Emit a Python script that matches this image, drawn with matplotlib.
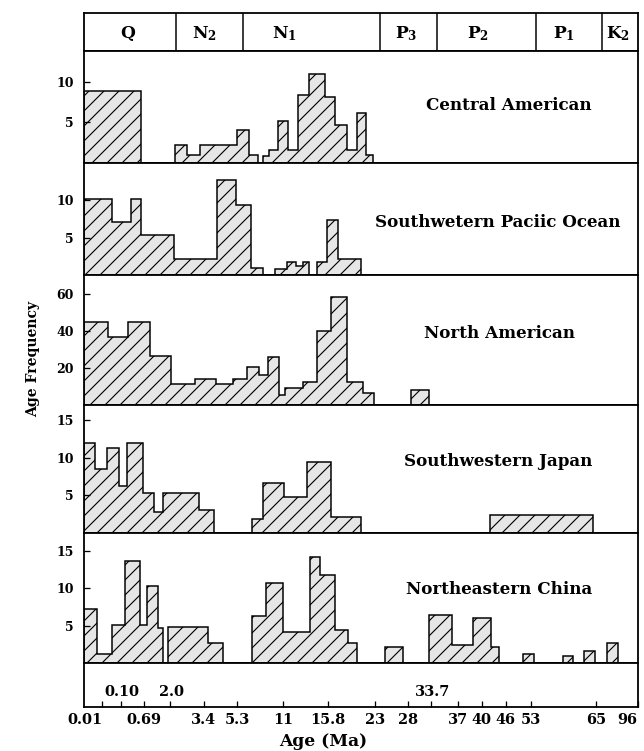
import numpy as np
import matplotlib
matplotlib.use("Agg")
import matplotlib.pyplot as plt
from matplotlib.transforms import blended_transform_factory

plt.rcParams['font.family'] = ['DejaVu Serif']
plt.rcParams['font.weight'] = 'bold'
plt.rcParams['mathtext.fontset'] = 'dejavuserif'
plt.rcParams['hatch.linewidth'] = 0.9
plt.rcParams['hatch.color'] = 'black'

DPI = 90
W, H = 644, 751
PT = 72 / DPI   # points per output pixel

# x values are positions along the chart's non-linear age scale
x_left, x_right = 84, 638

# age scale (bottom strip)
tick_pos = [102.3, 120.7, 144.3, 170, 204, 237.3, 283.3, 328.3, 375,
            407.7, 431, 457.7, 481.7, 505.7, 530.7, 596, 637.7]
tick_age = ['0.01', '0.10', '0.69', '2.0', '3.4', '5.3', '11', '15.8', '23',
            '28', '33.7', '37', '40', '46', '53', '65', '96']
upper_row = ['0.10', '2.0', '33.7']

# stratigraphic header
period_names = ['Q', r'$\mathbf{N_2}$', r'$\mathbf{N_1}$', r'$\mathbf{P_3}$',
                r'$\mathbf{P_2}$', r'$\mathbf{P_1}$', r'$\mathbf{K_2}$']
period_bounds = [84, 176, 243, 380, 437, 536, 602, 638]
period_label_x = [128, 204, 284, 406, 478, 564, 618]

# histograms: bin edges (scale position) and age frequency
regions = ['Central American', 'Southwetern Paciic Ocean', 'North American',
           'Southwestern Japan', 'Northeastern China']

ca_edges = [84, 141, 175, 186.7, 200, 236.7, 249.3, 257.7, 263.3, 269.3, 278.3,
            288.3, 298.3, 309.3, 325, 335, 346.7, 356.7, 366, 372.7]
ca_freq = [8.9, 0, 2.2, 1.0, 2.2, 4.0, 1.0, 0, 0.8, 1.6, 5.1, 1.6, 8.3, 10.9,
           8.1, 4.6, 1.6, 6.1, 1.0]

sp_edges = [84, 111.7, 130.7, 141, 174, 216.7, 235.7, 251, 263.3, 275, 286.7,
            296, 302.7, 309.3, 317.3, 327.3, 337.7, 361]
sp_freq = [10.1, 7.1, 10.1, 5.3, 2.2, 12.7, 9.3, 0.9, 0, 0.8, 1.8, 1.2, 1.8, 0,
           1.8, 7.4, 2.1]

na_edges = [84, 108.3, 128.3, 150, 171, 195, 216, 233.3, 246.7, 259, 268.3,
            279.3, 285, 303.3, 317.3, 330.7, 346.7, 363.3, 374, 410.7, 429]
na_freq = [45, 36.6, 45, 26.7, 11.2, 13.9, 11.2, 13.9, 20.7, 16.2, 26.1, 5.4,
           9.0, 12.3, 40, 58.5, 12.3, 6.3, 0, 8.1]

sj_edges = [84, 95, 106.7, 119.3, 127.3, 142.7, 154, 162.7, 199.3, 214, 251.7,
            262.7, 284, 307.3, 330.7, 360.7, 490, 593.3]
sj_freq = [12.0, 8.5, 11.3, 6.2, 12.0, 5.3, 2.8, 5.3, 3.0, 0, 1.8, 6.6, 4.7,
           9.4, 2.1, 0, 2.3]

nc_edges = [84, 96.7, 111.7, 125, 140, 146.7, 158.3, 162.7, 168.3, 208.3, 223.3,
            252.3, 265.7, 282.7, 310, 320, 335, 348.3, 356.7, 385, 402.7, 429,
            452.3, 473.3, 491, 499.3, 522.7, 534.3, 562.7, 573.3, 584.3, 595,
            606.7, 618.3]
nc_freq = [7.2, 1.3, 5.1, 13.6, 5.1, 10.3, 4.7, 0, 4.9, 2.7, 0, 6.3, 10.7, 4.2,
           14.2, 11.8, 4.4, 2.7, 0, 2.2, 0, 6.4, 2.4, 6.0, 2.2, 0, 1.3, 0, 1.0,
           0, 1.7, 0, 2.7]

panel_edges = [ca_edges, sp_edges, na_edges, sj_edges, nc_edges]
panel_freq = [ca_freq, sp_freq, na_freq, sj_freq, nc_freq]
panel_yticks = [[5, 10], [5, 10], [20, 40, 60], [5, 10, 15], [5, 10, 15]]
panel_ymax = [13.8, 14.96, 70.3, 17.0, 17.4]

# layout (pixel rows of the strips, top to bottom)
rows = [13, 50.7, 162.8, 275, 405, 532.7, 663.3, 706.7]
title_xy = [(509, 106), (498, 223), (499, 333), (498, 461), (499, 589)]

fig = plt.figure(figsize=(W / DPI, H / DPI), dpi=DPI)
lw = 1.8 * PT


def strip(top, bottom):
    ax = fig.add_axes([x_left / W, 1 - bottom / H,
                       (x_right - x_left) / W, (bottom - top) / H])
    ax.set_xlim(x_left, x_right)
    for s in ax.spines.values():
        s.set_linewidth(lw)
    return ax


# header
hd = strip(rows[0], rows[1])
hd.set_ylim(0, 1)
hd.set_xticks([])
hd.set_yticks([])
hd.vlines(period_bounds[1:-1], 0, 1, color='black', lw=1.5 * PT)
for name, xp in zip(period_names, period_label_x):
    hd.text(xp, 0.45, name, ha='center', va='center', fontsize=17 * PT,
            fontweight='bold')

# histogram panels
for i in range(5):
    ax = strip(rows[i + 1], rows[i + 2])
    ax.stairs(panel_freq[i], panel_edges[i], baseline=0, fill=True,
              facecolor='#e6e6e6', edgecolor='black', hatch='//',
              linewidth=1.5 * PT)
    ax.set_ylim(0, panel_ymax[i])
    ax.set_xticks([])
    ax.set_yticks(panel_yticks[i])
    ax.tick_params(axis='y', direction='in', length=6 * PT, width=1.3 * PT,
                   labelsize=12.5 * PT, pad=10 * PT)
    tx, ty = title_xy[i]
    fig.text(tx / W, 1 - ty / H, regions[i], ha='center', va='center',
             fontsize=16.7 * PT, fontweight='bold')

# age scale strip
bx = strip(rows[6], rows[7])
bx.set_ylim(0, 1)
bx.set_yticks([])
bx.set_xticks(tick_pos)
bx.set_xticklabels(['' if t in upper_row else t for t in tick_age])
bx.tick_params(axis='x', direction='in', length=6 * PT, width=1.3 * PT,
               labelsize=14.5 * PT, pad=6 * PT)
labels = bx.get_xticklabels()
labels[0].set_ha('right')
labels[-1].set_ha('right')
trans = blended_transform_factory(bx.transData, bx.transAxes)
for t, p in zip(tick_age, tick_pos):
    if t in upper_row:
        bx.text(p + 1.5, 0.34, t, transform=trans, ha='center', va='center',
                fontsize=14.5 * PT, fontweight='bold')

fig.text(323 / W, 1 - 741 / H, 'Age (Ma)', ha='center', va='center',
         fontsize=17 * PT, fontweight='bold')
fig.text(33 / W, 1 - 359 / H, 'Age Frequency', ha='center', va='center',
         rotation=90, fontsize=14 * PT, fontweight='bold')

fig.savefig('out.png', dpi=DPI)
